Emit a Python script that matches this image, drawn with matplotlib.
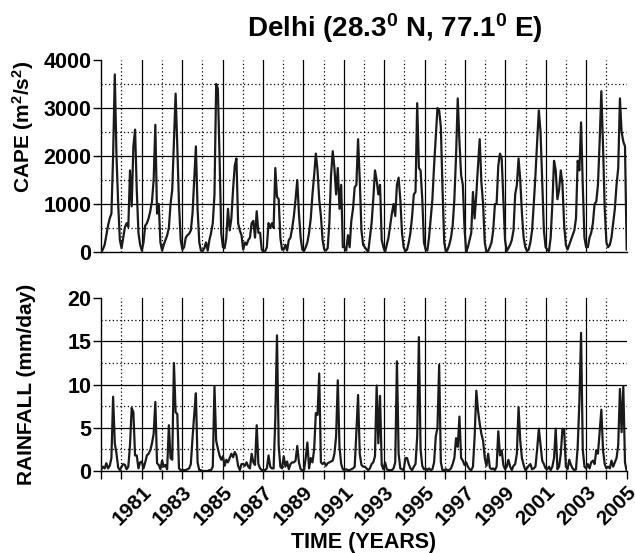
import matplotlib
matplotlib.use("Agg")
import matplotlib.pyplot as plt
import numpy as np
from matplotlib.ticker import FixedLocator, MultipleLocator, NullFormatter

plt.rcParams["font.family"] = "Liberation Sans"
plt.rcParams["font.weight"] = "bold"
plt.rcParams["axes.labelweight"] = "bold"
plt.rcParams["mathtext.fontset"] = "custom"
plt.rcParams["mathtext.rm"] = "Liberation Sans:bold"
plt.rcParams["mathtext.bf"] = "Liberation Sans:bold"
plt.rcParams["mathtext.it"] = "Liberation Sans:bold"
plt.rcParams["mathtext.default"] = "bf"

START_YEAR, END_YEAR = 1979, 2005

# monthly mean CAPE (m^2/s^2), one row per year, Jan..Dec
cape = [
    [0, 60, 150, 350, 550, 700, 800, 2000, 3700, 2000, 1000, 250],      # 1979
    [80, 300, 520, 600, 520, 1700, 950, 2200, 2550, 1300, 400, 150],    # 1980
    [30, 200, 550, 600, 700, 850, 1050, 1500, 2650, 800, 1000, 200],    # 1981
    [30, 150, 250, 350, 500, 1000, 1300, 2300, 3300, 2200, 1000, 250],  # 1982
    [50, 100, 300, 350, 380, 450, 800, 1500, 2200, 900, 200, 30],       # 1983
    [20, 80, 200, 30, 250, 400, 600, 1200, 3500, 3400, 2000, 400],      # 1984
    [100, 80, 300, 900, 450, 700, 1300, 1800, 1950, 600, 450, 350],     # 1985
    [50, 200, 150, 250, 300, 600, 650, 300, 850, 400, 400, 50],         # 1986
    [0, 20, 100, 600, 500, 600, 500, 1750, 1150, 1100, 300, 50],        # 1987
    [50, 150, 30, 250, 300, 500, 750, 1100, 1500, 800, 300, 50],        # 1988
    [20, 100, 200, 400, 700, 1200, 1600, 2050, 1700, 1100, 750, 250],   # 1989
    [50, 30, 80, 600, 1600, 2100, 1750, 1200, 1750, 900, 1400, 100],    # 1990
    [100, 30, 350, 100, 650, 900, 1350, 1400, 2350, 1500, 450, 150],    # 1991
    [100, 50, 0, 300, 600, 1100, 1700, 1500, 1200, 1400, 250, 100],     # 1992
    [0, 150, 300, 550, 800, 1000, 750, 1400, 1550, 1100, 400, 100],     # 1993
    [20, 50, 200, 400, 750, 1200, 1250, 3100, 1750, 1700, 1100, 200],   # 1994
    [50, 30, 300, 700, 1100, 1800, 2400, 3000, 2950, 2600, 1300, 200],  # 1995
    [0, 50, 150, 300, 550, 1100, 2000, 3200, 2300, 1600, 1400, 500],    # 1996
    [0, 100, 250, 400, 1250, 700, 1200, 1800, 2350, 1450, 1000, 200],   # 1997
    [0, 20, 100, 200, 450, 1000, 1000, 1800, 2050, 1950, 1100, 250],    # 1998
    [20, 80, 150, 250, 450, 1200, 1400, 1950, 1500, 800, 300, 100],     # 1999
    [20, 50, 200, 450, 1000, 1600, 2300, 2950, 2500, 1500, 450, 100],   # 2000
    [50, 20, 300, 1000, 1900, 1700, 1100, 1300, 1700, 1400, 550, 150],  # 2001
    [50, 150, 250, 350, 450, 700, 1900, 1700, 2700, 1400, 300, 100],    # 2002
    [100, 300, 400, 600, 1000, 1050, 1400, 2300, 3350, 2200, 900, 200], # 2003
    [100, 150, 300, 600, 900, 1400, 1750, 3200, 2500, 2300, 2200, 50],  # 2004
]

# monthly mean rainfall (mm/day), one row per year, Jan..Dec
rain = [
    [0.2, 0.5, 0.3, 0.9, 0.3, 0.6, 1.5, 8.6, 3.2, 2.0, 0.4, 0.1],   # 1979
    [0.5, 0.8, 0.7, 0.2, 0.5, 3.0, 7.3, 6.8, 1.8, 1.8, 0.3, 1.0],   # 1980
    [1.1, 0.3, 1.0, 1.8, 2.0, 2.4, 3.2, 4.3, 8.0, 0.9, 0.7, 0.2],   # 1981
    [1.2, 0.5, 0.7, 0.2, 5.3, 1.5, 1.3, 12.5, 6.8, 6.6, 0.3, 0.1],  # 1982
    [0.1, 0.1, 0.1, 0.2, 0.3, 0.8, 3.8, 6.5, 9.0, 1.0, 0.1, 0.1],   # 1983
    [0.0, 0.0, 0.0, 0.0, 0.1, 0.1, 0.5, 9.8, 3.5, 2.6, 1.8, 1.3],   # 1984
    [1.7, 0.6, 1.3, 1.0, 1.5, 2.0, 1.6, 2.2, 1.8, 0.6, 0.1, 0.8],   # 1985
    [0.8, 0.6, 1.0, 0.5, 0.3, 2.0, 1.0, 0.7, 5.3, 0.8, 0.3, 0.1],   # 1986
    [0.1, 0.1, 0.3, 1.8, 0.5, 0.3, 0.3, 6.0, 15.7, 3.0, 0.5, 0.3],  # 1987
    [1.7, 0.5, 1.1, 0.2, 0.8, 1.0, 1.0, 1.2, 2.9, 1.0, 0.2, 0.1],   # 1988
    [0.1, 1.5, 3.3, 0.3, 1.5, 1.0, 2.5, 6.7, 6.5, 11.3, 1.0, 0.8],  # 1989
    [1.0, 0.6, 0.9, 1.0, 1.1, 1.2, 2.0, 4.0, 10.5, 2.8, 0.8, 0.2],  # 1990
    [0.1, 0.2, 0.1, 0.1, 0.2, 0.3, 0.5, 4.5, 8.8, 2.0, 0.7, 0.5],   # 1991
    [0.5, 0.3, 0.1, 0.3, 0.8, 1.0, 1.7, 9.9, 3.2, 8.7, 0.7, 0.2],   # 1992
    [1.0, 0.2, 0.1, 0.1, 0.1, 0.3, 1.0, 12.7, 2.0, 0.3, 0.2, 0.1],  # 1993
    [1.5, 1.5, 0.8, 0.3, 0.1, 0.5, 0.8, 4.0, 15.5, 2.5, 0.6, 0.2],  # 1994
    [0.3, 0.1, 0.3, 0.1, 0.2, 1.0, 4.0, 5.0, 12.3, 1.0, 0.1, 0.1],  # 1995
    [0.2, 0.1, 0.1, 0.3, 0.8, 1.5, 3.8, 2.8, 6.3, 1.5, 1.2, 0.7],   # 1996
    [1.0, 0.5, 0.2, 0.1, 0.5, 4.0, 9.3, 7.0, 5.5, 4.3, 3.5, 1.5],   # 1997
    [0.6, 2.0, 0.4, 0.2, 0.3, 0.1, 0.5, 4.6, 1.8, 2.4, 0.7, 0.2],   # 1998
    [0.5, 1.3, 0.5, 0.1, 0.6, 0.8, 2.0, 7.4, 3.5, 1.5, 0.7, 0.1],   # 1999
    [0.3, 0.6, 0.8, 0.2, 0.3, 0.5, 2.5, 4.9, 3.0, 1.2, 0.8, 0.3],   # 2000
    [0.2, 0.5, 0.1, 0.5, 1.5, 4.9, 0.2, 0.5, 2.0, 4.9, 4.8, 0.5],   # 2001
    [0.2, 1.3, 0.7, 0.3, 0.1, 0.2, 2.8, 8.0, 16.0, 2.5, 0.5, 0.3],  # 2002
    [0.8, 0.3, 1.0, 1.2, 0.8, 2.4, 2.0, 4.5, 7.1, 2.4, 0.8, 0.3],   # 2003
    [0.5, 0.3, 1.2, 0.5, 1.0, 1.5, 3.0, 9.5, 4.5, 9.8, 1.0, 0.0],   # 2004
]

labelled_years = list(range(1981, 2006, 2))
cape_ticks = [0, 1000, 2000, 3000, 4000]
rain_ticks = [0, 5, 10, 15, 20]


def draw_grid(ax, y_major, y_step, y_max):
    """Solid lines on major ticks, dotted halfway between; none on the frame."""
    for y in y_major[1:-1]:
        ax.axhline(y, color="black", lw=0.9, zorder=1)
    for y in np.arange(y_step / 2, y_max, y_step):
        ax.axhline(y, color="black", lw=0.9, ls=(0, (1, 2)), zorder=1)
    for yr in range(START_YEAR + 1, END_YEAR):
        if yr in labelled_years:
            ax.axvline(yr, color="black", lw=0.9, zorder=1)
        else:
            ax.axvline(yr, color="black", lw=0.9, ls=(0, (1, 2)), zorder=1)


def style_axes(ax, y_major):
    for side in ("top", "right"):
        ax.spines[side].set_visible(False)
    ax.spines["left"].set_linewidth(1.0)
    ax.spines["bottom"].set_linewidth(1.0)
    ax.set_xlim(START_YEAR, END_YEAR)
    ax.set_ylim(y_major[0], y_major[-1])
    ax.yaxis.set_major_locator(FixedLocator(y_major))
    ax.tick_params(axis="y", direction="out", length=6, width=1.0,
                   labelsize=15.5, pad=1)


cape_series = np.concatenate(cape)
rain_series = np.concatenate(rain)
t = np.linspace(START_YEAR, END_YEAR, len(cape_series))

fig = plt.figure(figsize=(6.35, 5.53), dpi=100)
ax_top = fig.add_axes([0.1595, 0.5443, 0.8274, 0.3472])
ax_bot = fig.add_axes([0.1595, 0.1483, 0.8274, 0.3123])

# CAPE panel
style_axes(ax_top, cape_ticks)
draw_grid(ax_top, cape_ticks, 1000, 4000)
ax_top.plot(t, cape_series, color="#1a1a1a", lw=1.6, zorder=3)
ax_top.tick_params(axis="x", length=0, labelbottom=False)
ax_top.set_ylabel(r"CAPE (m$^2$/s$^2$)", fontsize=15)
ax_top.yaxis.set_label_coords(-0.125, 0.65)

# rainfall panel
style_axes(ax_bot, rain_ticks)
draw_grid(ax_bot, rain_ticks, 5, 20)
ax_bot.plot(t, rain_series, color="#1a1a1a", lw=1.6, zorder=3)
ax_bot.xaxis.set_major_locator(FixedLocator(labelled_years))
ax_bot.xaxis.set_minor_locator(MultipleLocator(1))
ax_bot.xaxis.set_minor_formatter(NullFormatter())
ax_bot.set_xticks(labelled_years)
ax_bot.set_xticklabels([str(y) for y in labelled_years], rotation=45,
                       ha="right", rotation_mode="anchor")
ax_bot.tick_params(axis="x", which="major", direction="out", length=6,
                   width=1.0, labelsize=15, pad=2)
ax_bot.tick_params(axis="x", which="minor", direction="out", length=6,
                   width=1.0)
ax_bot.set_ylabel("RAINFALL (mm/day)", fontsize=15)
ax_bot.yaxis.set_label_coords(-0.125, 0.5)

fig.text(0.573, 0.009, "TIME (YEARS)", ha="center", va="baseline",
         fontsize=15.5)
fig.text(0.622, 0.9336, r"Delhi (28.3$^0$ N, 77.1$^0$ E)", ha="center",
         va="baseline", fontsize=20)

fig.savefig("out.png", dpi=100)
